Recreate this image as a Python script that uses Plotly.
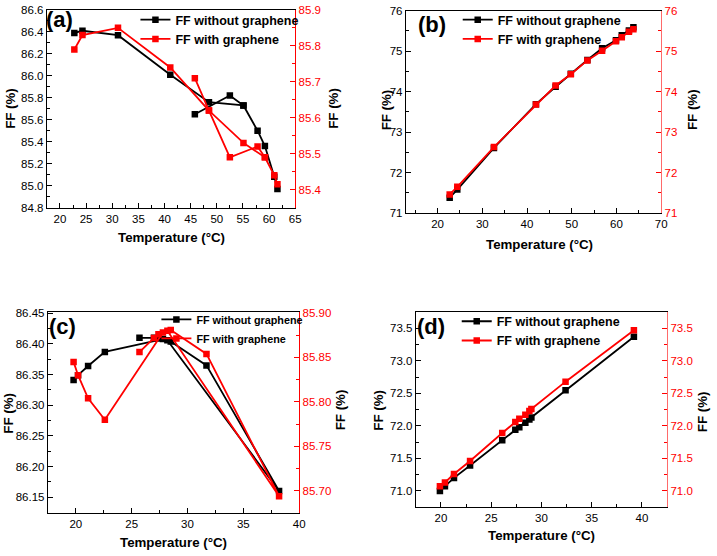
import plotly.graph_objects as go

# ---------------- data ----------------
# (a)  (None separates the two branches of each measured path)
a_temp_without = [22.75, 24.3, 31.1, 41.1, 48.5, 55.1, 57.8, 59.2, 61.0, 61.6, None, 45.8, 52.5, 55.1]
a_ff_without = [86.39, 86.41, 86.37, 86.01, 85.76, 85.73, 85.50, 85.36, 85.08, 84.97, None, 85.65, 85.82, 85.73]
a_temp_with = [22.75, 24.3, 31.1, 41.1, 48.5, 52.5, 57.8, 59.2, 61.0, 61.6, None, 45.8, 48.5, 55.1, 59.2]
a_ff_with = [85.79, 85.83, 85.85, 85.74, 85.62, 85.49, 85.52, 85.49, 85.44, 85.415, None, 85.71, 85.62, 85.53, 85.49]

# (b)
b_temp = [22.7, 24.4, 32.6, 42.0, 46.4, 49.8, 53.5, 56.8, 59.9, 61.2, 62.8, 63.8]
b_ff_without = [71.38, 71.58, 72.61, 73.69, 74.12, 74.44, 74.78, 75.07, 75.27, 75.39, 75.51, 75.59]
b_ff_with = [71.46, 71.65, 72.63, 73.68, 74.15, 74.43, 74.77, 75.01, 75.24, 75.34, 75.48, 75.54]

# (c)  heating then cooling
c_temp = [19.8, 20.2, 21.1, 22.6, 27.8, 28.5, 31.7, 38.2, 28.2, 27.4, 27.0, 25.7]
c_ff_without = [86.341, 86.349, 86.364, 86.387, 86.408, 86.404, 86.365, 86.160, 86.406, 86.409, 86.410, 86.410]
c_ff_with = [85.845, 85.830, 85.804, 85.780, 85.878, 85.881, 85.854, 85.694, 85.880, 85.876, 85.872, 85.856]

# (d)
d_temp = [19.9, 20.4, 21.3, 22.9, 26.1, 27.4, 27.8, 28.4, 28.8, 29.0, 32.4, 39.2]
d_ff_without = [71.00, 71.07, 71.20, 71.39, 71.78, 71.94, 71.98, 72.05, 72.10, 72.13, 72.55, 73.37]
d_ff_with = [71.07, 71.13, 71.26, 71.46, 71.89, 72.06, 72.11, 72.17, 72.23, 72.26, 72.68, 73.47]

labels = ["(a)", "(b)", "(c)", "(d)"]
name_without = "FF without graphene"
name_with = "FF with graphene"
x_title = "Temperature (°C)"
y_title = "FF (%)"

# ---------------- styling ----------------
W, H = 717, 556
FONT = "Liberation Sans, Arial, sans-serif"
RED = "#ff0000"

def px_x(v):
    return v / W

def px_y(v):
    return 1 - v / H

panels = [
    dict(dom_x=(47.3, 297.7), dom_y=(5, 206.7), xr=[17.5, 65], xd=5,
         yl=[84.8, 86.6], yld=0.2, ylf=".1f", yr=[85.35, 85.9], yrd=0.1, yrf=".1f",
         temp_wo=a_temp_without, ff_wo=a_ff_without, temp_w=a_temp_with, ff_w=a_ff_with,
         leg_x=306, leg_y=0, leg_font=12.5, lab=(60, 15), rline=RED,
         t_l=(11, 105), t_r=(336.7, 105), t_x=(172.5, 236.7)),
    dict(dom_x=(409.3, 666.7), dom_y=(5.7, 212.3), xr=[12.9, 70], xd=10,
         yl=[71, 76], yld=1, ylf="d", yr=[71, 76], yrd=1, yrf="d",
         temp_wo=b_temp, ff_wo=b_ff_without, temp_w=b_temp, ff_w=b_ff_with,
         leg_x=631, leg_y=0, leg_font=12.5, lab=(436, 19.5), rline="#ff6a6a",
         t_l=(390, 106.7), t_r=(698.3, 106.7), t_x=(544.2, 244)),
    dict(dom_x=(48.3, 301.7), dom_y=(313.3, 518.3), xr=[17.5, 40], xd=5,
         yl=[86.124, 86.452], yld=0.05, ylf=".2f", yr=[85.675, 85.901], yrd=0.05, yrf=".2f",
         temp_wo=c_temp, ff_wo=c_ff_without, temp_w=c_temp, ff_w=c_ff_with,
         leg_x=311, leg_y=306, leg_font=10.8, lab=(63, 328), rline=RED,
         t_l=(8.3, 416.7), t_r=(343.3, 413), t_x=(175, 548)),
    dict(dom_x=(419.3, 672.7), dom_y=(313.3, 512.3), xr=[17.5, 42.5], xd=5,
         yl=[70.75, 73.75], yld=0.5, ylf=".1f", yr=[70.75, 73.75], yrd=0.5, yrf=".1f",
         temp_wo=d_temp, ff_wo=d_ff_without, temp_w=d_temp, ff_w=d_ff_with,
         leg_x=630, leg_y=307.7, leg_font=12.5, lab=(435, 328), rline="#ff6a6a",
         t_l=(381.7, 413.3), t_r=(708.3, 415), t_x=(545.8, 541.7)),
]

fig = go.Figure()
layout = dict(
    width=W, height=H, margin=dict(l=0, r=0, t=0, b=0),
    paper_bgcolor="white", plot_bgcolor="white",
    font=dict(family=FONT, size=11, color="black"),
    showlegend=True,
)
annotations = []
TITLE_FONT = dict(size=13.3, weight="bold", color="black")

for i, p in enumerate(panels):
    xn = "" if i == 0 else str(i + 1)
    yl_n = "" if i == 0 else str(2 * i + 1)
    yr_n = str(2 * i + 2)
    leg = "legend" if i == 0 else f"legend{i + 1}"
    xref = "x" + xn
    ylref = "y" + yl_n
    yrref = "y" + yr_n

    fig.add_trace(go.Scatter(
        x=p["temp_wo"], y=p["ff_wo"], name=name_without, mode="lines+markers",
        line=dict(color="black", width=1.8), marker=dict(symbol="square", size=6.5, color="black"),
        xaxis=xref, yaxis=ylref, legend=leg, connectgaps=False))
    fig.add_trace(go.Scatter(
        x=p["temp_w"], y=p["ff_w"], name=name_with, mode="lines+markers",
        line=dict(color=RED, width=1.8), marker=dict(symbol="square", size=6.5, color=RED),
        xaxis=xref, yaxis=yrref, legend=leg, connectgaps=False))

    layout["xaxis" + xn] = dict(
        domain=[px_x(p["dom_x"][0]), px_x(p["dom_x"][1])], anchor=ylref,
        range=p["xr"], dtick=p["xd"], tick0=0, showgrid=False, zeroline=False,
        showline=True, linecolor="black", linewidth=1.2, mirror=True,
        ticks="inside", ticklen=5, tickcolor="black", tickfont=dict(size=11.5),
        minor=dict(ticks="inside", ticklen=3, dtick=p["xd"] / 2, tick0=0, tickcolor="black", showgrid=False),
    )
    layout["yaxis" + yl_n] = dict(
        domain=[px_y(p["dom_y"][1]), px_y(p["dom_y"][0])], anchor=xref,
        range=p["yl"], dtick=p["yld"], tick0=0, tickformat=p["ylf"], showgrid=False, zeroline=False,
        showline=True, linecolor="black", linewidth=1.2,
        ticks="inside", ticklen=5, tickcolor="black", tickfont=dict(size=11.5),
        minor=dict(ticks="inside", ticklen=3, dtick=p["yld"] / 2, tick0=0, tickcolor="black", showgrid=False),
    )
    layout["yaxis" + yr_n] = dict(
        overlaying=ylref, anchor=xref, side="right",
        range=p["yr"], dtick=p["yrd"], tick0=0, tickformat=p["yrf"], showgrid=False, zeroline=False,
        showline=True, linecolor=p["rline"], linewidth=1.2,
        ticks="inside", ticklen=5, tickcolor=RED, tickfont=dict(size=11.5, color=RED),
        minor=dict(ticks="inside", ticklen=3, dtick=p["yrd"] / 2, tick0=0, tickcolor=RED, showgrid=False),
    )
    layout[leg] = dict(
        x=px_x(p["leg_x"]), y=px_y(p["leg_y"]), xanchor="right", yanchor="top",
        bgcolor="rgba(0,0,0,0)", borderwidth=0, tracegroupgap=0,
        font=dict(size=p["leg_font"], weight="bold", color="black"),
        itemwidth=30,
    )
    annotations.append(dict(
        text=labels[i], x=px_x(p["lab"][0]), y=px_y(p["lab"][1]), xref="paper", yref="paper",
        showarrow=False, font=dict(size=22, weight="bold", color="black"),
        xanchor="center", yanchor="middle"))
    annotations.append(dict(
        text=x_title, x=px_x(p["t_x"][0]), y=px_y(p["t_x"][1]), xref="paper", yref="paper",
        showarrow=False, font=TITLE_FONT, xanchor="center", yanchor="middle"))
    for key in ("t_l", "t_r"):
        annotations.append(dict(
            text=y_title, x=px_x(p[key][0]), y=px_y(p[key][1]), xref="paper", yref="paper",
            showarrow=False, font=TITLE_FONT, textangle=-90, xanchor="center", yanchor="middle"))

layout["annotations"] = annotations
fig.update_layout(**layout)
fig.write_html("out.html", config={"displayModeBar": False},
               post_script="document.body.style.margin='0px';")
